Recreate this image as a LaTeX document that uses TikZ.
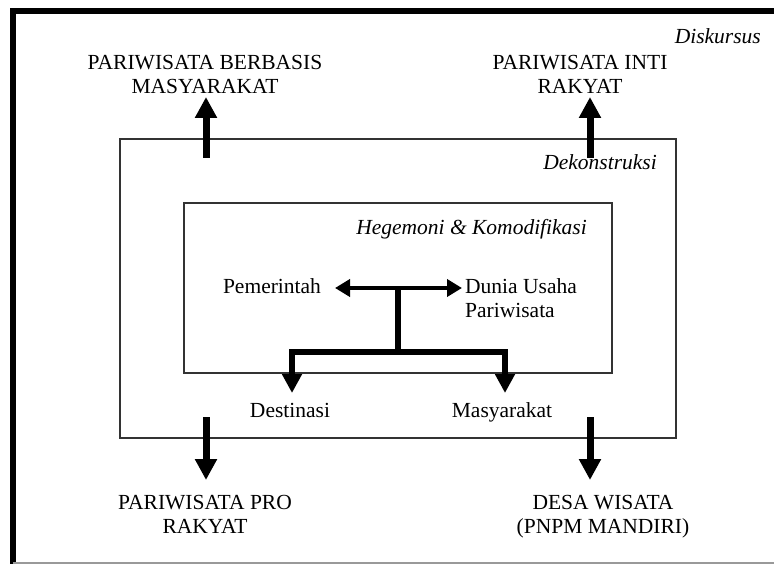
\documentclass[tikz,border=0pt]{standalone}
\usepackage{fontspec}
\setmainfont{Liberation Serif}
\usetikzlibrary{arrows.meta}

\begin{document}
\begin{tikzpicture}[x=1pt,y=-1pt,
  txt/.style={inner sep=0pt, font=\fontsize{21.5}{24}\selectfont},
  ttl/.style={txt, font=\fontsize{21.5}{24}\selectfont\itshape},
  boxline/.style={draw=black!80, line width=2pt},
  bigarrow/.style={line width=7pt, -{Triangle[length=21pt,width=21pt]}},
  dblarrow/.style={line width=4.5pt, {Triangle[length=15pt,width=17pt]}-{Triangle[length=15pt,width=17pt]}},
  linkline/.style={line width=6pt},
  forkarrow/.style={line width=6pt, line join=miter,
    {Triangle[length=19pt,width=19pt]}-{Triangle[length=19pt,width=19pt]}}]

  \useasboundingbox (0,0) rectangle (774,564);

  % outer frame: heavy left and top rules, light rule at the foot
  \draw[line width=6pt, line join=miter] (790,11) -- (13,11) -- (13,580);
  \draw[black!40, line width=1.5pt] (13,563) -- (790,563);

  % nested boxes
  \draw[boxline] (120,139) rectangle (676,438);
  \draw[boxline] (184,203) rectangle (612,373);

  % level titles
  \node[ttl, anchor=base east] (diskursus) at (761,44) {Diskursus};
  \node[ttl, anchor=base east] (dekon) at (657,170) {Dekonstruksi};
  \node[ttl, anchor=base east] (hegemoni) at (587,235) {Hegemoni \& Komodifikasi};

  % actors in the core
  \node[txt, anchor=base] (pem) at (272,293) {Pemerintah};
  \node[txt, anchor=north west, align=left] (dunia) at (465,278) {Dunia Usaha\\Pariwisata};
  \node[txt, anchor=base] (dest) at (290,417) {Destinasi};
  \node[txt, anchor=base] (masy) at (502,417) {Masyarakat};

  % discourses
  \node[txt, anchor=north, align=center] (pbm) at (205,55) {PARIWISATA BERBASIS\\MASYARAKAT};
  \node[txt, anchor=north, align=center] (pir) at (580,55) {PARIWISATA INTI\\RAKYAT};
  \node[txt, anchor=north, align=center] (ppr) at (205,495) {PARIWISATA PRO\\RAKYAT};
  \node[txt, anchor=north, align=center] (dws) at (603,495) {DESA WISATA\\(PNPM MANDIRI)};

  % joints of the central connector
  \coordinate (lefttip) at (335,288);
  \coordinate (righttip) at (462,288);
  \coordinate (hub) at (398,288);
  \coordinate (fork) at (398,352);
  \coordinate (desttip) at (292,393);
  \coordinate (masytip) at (505,393);

  \draw[dblarrow] (lefttip) -- (righttip);
  \draw[linkline] (hub) -- (fork);
  \draw[forkarrow] (desttip) -- (desttip |- fork) -- (masytip |- fork) -- (masytip);

  % arrows out of the deconstruction box
  \coordinate (tlstart) at (206,158);
  \coordinate (tlend) at (206,97);
  \coordinate (trstart) at (590,158);
  \coordinate (trend) at (590,97);
  \coordinate (blstart) at (206,417);
  \coordinate (blend) at (206,480);
  \coordinate (brstart) at (590,417);
  \coordinate (brend) at (590,480);

  \draw[bigarrow] (tlstart) -- (tlend);
  \draw[bigarrow] (trstart) -- (trend);
  \draw[bigarrow] (blstart) -- (blend);
  \draw[bigarrow] (brstart) -- (brend);
\end{tikzpicture}
\end{document}
